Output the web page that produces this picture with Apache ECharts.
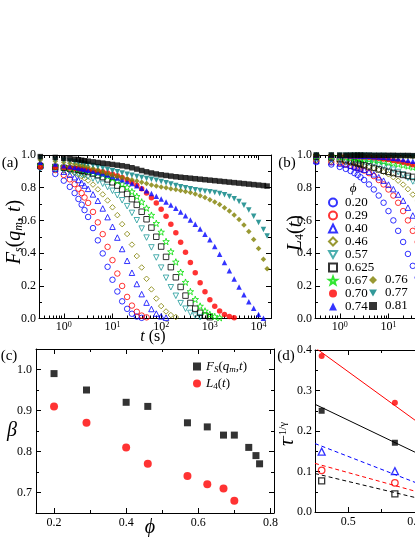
<!DOCTYPE html>
<html>
<head>
<meta charset="utf-8">
<title>Fs and L4 relaxation</title>
<script src="https://cdn.jsdelivr.net/npm/echarts@6.0.0/dist/echarts.min.js"></script>
<style>
  html, body { margin: 0; padding: 0; background: #fff; }
  #main { width: 415px; height: 537px; }
</style>
</head>
<body>
<div id="main"></div>
<script>
const FONT = 'Liberation Serif'

// time points (s), shared by panels (a) and (b)
const timeS = [0.33, 0.67, 1, 1.33, 1.67, 2, 2.33, 2.67,
  3.16, 3.98, 5.01, 6.31, 7.94, 10, 12.6, 15.8, 20, 25.1, 31.6, 39.8, 50.1, 63.1, 79.4,
  100, 126, 158, 200, 251, 316, 398, 501, 631, 794,
  1000, 1259, 1585, 1995, 2512, 3162, 3981, 5012, 6310, 7943,
  10000, 12589, 15000]

// panel (a): Fs(qm, t)
const fs020 = [0.925, 0.884, 0.843, 0.805, 0.767, 0.731, 0.696, 0.663, 0.621, 0.553, 0.478, 0.398, 0.316, 0.237, 0.165, 0.105, 0.059, 0.029, 0.012, 0.004]
const fs029 = [0.938, 0.908, 0.878, 0.851, 0.822, 0.794, 0.767, 0.740, 0.707, 0.652, 0.588, 0.516, 0.438, 0.357, 0.275, 0.199, 0.132, 0.079, 0.041, 0.018, 0.007]
const fs040 = [0.936, 0.916, 0.898, 0.880, 0.864, 0.847, 0.829, 0.813, 0.793, 0.759, 0.720, 0.673, 0.620, 0.561, 0.495, 0.425, 0.353, 0.280, 0.211, 0.149, 0.097, 0.058, 0.030, 0.013, 0.005]
const fs046 = [0.940, 0.927, 0.915, 0.902, 0.891, 0.881, 0.869, 0.858, 0.844, 0.819, 0.790, 0.759, 0.722, 0.680, 0.632, 0.577, 0.517, 0.452, 0.382, 0.312, 0.243, 0.178, 0.122, 0.076, 0.043, 0.021, 0.009]
const fs057 = [0.919, 0.911, 0.904, 0.898, 0.892, 0.886, 0.881, 0.875, 0.868, 0.856, 0.842, 0.824, 0.804, 0.781, 0.754, 0.723, 0.687, 0.646, 0.601, 0.550, 0.495, 0.435, 0.373, 0.311, 0.249, 0.191, 0.139, 0.094, 0.060, 0.034, 0.018, 0.008]
const fs0625 = [0.933, 0.927, 0.922, 0.917, 0.913, 0.909, 0.904, 0.901, 0.896, 0.887, 0.877, 0.865, 0.851, 0.833, 0.813, 0.790, 0.762, 0.730, 0.695, 0.653, 0.607, 0.556, 0.500, 0.440, 0.377, 0.314, 0.252, 0.193, 0.140, 0.095, 0.060, 0.035, 0.018, 0.008]
const fs067 = [0.935, 0.931, 0.927, 0.923, 0.919, 0.917, 0.913, 0.910, 0.906, 0.900, 0.892, 0.883, 0.871, 0.858, 0.842, 0.823, 0.803, 0.776, 0.747, 0.713, 0.675, 0.632, 0.582, 0.529, 0.471, 0.409, 0.346, 0.283, 0.222, 0.165, 0.117, 0.076, 0.046, 0.025, 0.012, 0.005]
const fs070 = [0.926, 0.925, 0.923, 0.921, 0.919, 0.917, 0.915, 0.913, 0.910, 0.907, 0.902, 0.897, 0.890, 0.883, 0.873, 0.862, 0.849, 0.833, 0.815, 0.794, 0.768, 0.739, 0.706, 0.668, 0.625, 0.576, 0.524, 0.466, 0.405, 0.342, 0.280, 0.219, 0.164, 0.115, 0.075, 0.046, 0.025, 0.012, 0.005]
const fs074 = [0.955, 0.945, 0.935, 0.930, 0.925, 0.920, 0.916, 0.912, 0.907, 0.900, 0.893, 0.885, 0.877, 0.868, 0.859, 0.849, 0.838, 0.826, 0.812, 0.797, 0.781, 0.765, 0.748, 0.731, 0.713, 0.694, 0.674, 0.652, 0.628, 0.603, 0.577, 0.548, 0.516, 0.481, 0.440, 0.393, 0.343, 0.292, 0.241, 0.192, 0.146, 0.103, 0.063, 0.025, 0.002]
const fs076 = [0.970, 0.962, 0.955, 0.950, 0.945, 0.940, 0.936, 0.932, 0.927, 0.918, 0.908, 0.897, 0.887, 0.878, 0.870, 0.862, 0.855, 0.848, 0.841, 0.833, 0.825, 0.817, 0.811, 0.805, 0.799, 0.794, 0.789, 0.783, 0.777, 0.770, 0.761, 0.751, 0.740, 0.727, 0.713, 0.697, 0.678, 0.657, 0.633, 0.606, 0.572, 0.532, 0.483, 0.428, 0.363, 0.305]
const fs077 = [0.980, 0.973, 0.968, 0.964, 0.960, 0.956, 0.952, 0.948, 0.944, 0.936, 0.928, 0.920, 0.912, 0.904, 0.897, 0.890, 0.883, 0.876, 0.869, 0.862, 0.856, 0.851, 0.846, 0.838, 0.830, 0.822, 0.814, 0.806, 0.799, 0.793, 0.788, 0.783, 0.779, 0.775, 0.770, 0.765, 0.757, 0.746, 0.733, 0.716, 0.693, 0.664, 0.626, 0.587, 0.545, 0.505]
const fs081 = [0.990, 0.985, 0.980, 0.977, 0.974, 0.971, 0.968, 0.965, 0.962, 0.958, 0.954, 0.950, 0.946, 0.942, 0.938, 0.934, 0.929, 0.922, 0.914, 0.905, 0.897, 0.890, 0.884, 0.879, 0.875, 0.871, 0.867, 0.864, 0.861, 0.858, 0.855, 0.852, 0.849, 0.846, 0.843, 0.840, 0.837, 0.834, 0.831, 0.828, 0.825, 0.822, 0.819, 0.816, 0.813, 0.810]

// panel (b): L4(t), only the part inside the picture
const l4020 = [0.957, 0.942, 0.927, 0.915, 0.902, 0.889, 0.878, 0.864, 0.847, 0.820, 0.789, 0.752, 0.708, 0.657, 0.600, 0.536, 0.468, 0.395, 0.322, 0.250]
const l4029 = [0.965, 0.957, 0.950, 0.942, 0.934, 0.927, 0.920, 0.914, 0.905, 0.889, 0.871, 0.847, 0.820, 0.789, 0.752, 0.708, 0.657, 0.600, 0.536, 0.468]
const l4040 = [0.963, 0.956, 0.948, 0.942, 0.935, 0.929, 0.923, 0.917, 0.910, 0.897, 0.882, 0.864, 0.843, 0.819, 0.791, 0.758, 0.721, 0.678, 0.630, 0.576]
const l4046 = [0.969, 0.963, 0.959, 0.956, 0.952, 0.948, 0.944, 0.941, 0.936, 0.929, 0.920, 0.910, 0.897, 0.882, 0.864, 0.843, 0.819, 0.791, 0.758, 0.721]
const l4057 = [0.978, 0.975, 0.972, 0.970, 0.967, 0.965, 0.963, 0.961, 0.958, 0.953, 0.947, 0.940, 0.932, 0.922, 0.910, 0.896, 0.880, 0.860, 0.838, 0.810]
const l40625 = [0.990, 0.985, 0.975, 0.968, 0.961, 0.955, 0.949, 0.944, 0.938, 0.930, 0.921, 0.912, 0.904, 0.897, 0.890, 0.884, 0.878, 0.872, 0.866, 0.860]
const l4067 = [0.995, 0.993, 0.990, 0.988, 0.985, 0.983, 0.981, 0.979, 0.977, 0.974, 0.970, 0.966, 0.961, 0.956, 0.951, 0.945, 0.939, 0.933, 0.926, 0.918]
const l4070 = [0.997, 0.996, 0.995, 0.994, 0.993, 0.992, 0.991, 0.990, 0.988, 0.986, 0.983, 0.980, 0.976, 0.972, 0.967, 0.962, 0.956, 0.949, 0.941, 0.933]
const l4074 = [0.998, 0.998, 0.997, 0.997, 0.996, 0.995, 0.995, 0.994, 0.993, 0.992, 0.990, 0.988, 0.986, 0.983, 0.980, 0.977, 0.973, 0.968, 0.962, 0.955]
const l4076 = [0.999, 0.999, 0.999, 0.998, 0.998, 0.998, 0.998, 0.997, 0.997, 0.997, 0.996, 0.996, 0.995, 0.994, 0.993, 0.993, 0.992, 0.991, 0.990, 0.989]
const l4077 = [0.999, 0.999, 0.999, 0.999, 0.999, 0.998, 0.998, 0.998, 0.998, 0.998, 0.997, 0.997, 0.997, 0.996, 0.996, 0.995, 0.995, 0.994, 0.993, 0.992]
const l4081 = [1.000, 1.000, 0.999, 0.999, 0.999, 0.999, 0.999, 0.999, 0.999, 0.999, 0.998, 0.998, 0.998, 0.998, 0.998, 0.997, 0.997, 0.997, 0.996, 0.996]

// panel (c): stretching exponent beta vs phi
const phiFs = [0.20, 0.29, 0.40, 0.46, 0.57, 0.625, 0.67, 0.70, 0.74, 0.76, 0.77]
const betaFs = [0.99, 0.95, 0.92, 0.91, 0.87, 0.86, 0.84, 0.84, 0.81, 0.79, 0.77]
const phiL4 = [0.20, 0.29, 0.40, 0.46, 0.57, 0.625, 0.67, 0.70]
const betaL4 = [0.91, 0.87, 0.81, 0.77, 0.74, 0.72, 0.71, 0.68]

// panel (d): tau^(-1/gamma) vs phi, with fitted lines
const phiTau = [0.46, 0.57]
const tauRedFilled = [0.385, 0.270]
const tauBlackFilled = [0.250, 0.171]
const tauBlueOpen = [0.149, 0.101]
const tauRedOpen = [0.103, 0.072]
const tauBlackOpen = [0.077, 0.045]
const fitPhi = [0.45, 0.61]
const fitRedSolid = [0.406, 0.215]
const fitBlackSolid = [0.266, 0.140]
const fitBlueDash = [0.169, 0.067]
const fitRedDash = [0.120, 0.047]
const fitBlackDash = [0.095, 0.032]

// tick values
const logMajor = [1, 10, 100, 1000, 10000]
const logMinor = [0.4, 0.5, 0.6, 0.7, 0.8, 0.9, 2, 3, 4, 5, 6, 7, 8, 9, 20, 30, 40, 50, 60, 70, 80, 90,
  200, 300, 400, 500, 600, 700, 800, 900, 2000, 3000, 4000, 5000, 6000, 7000, 8000, 9000]
const fracMajor = [0, 0.2, 0.4, 0.6, 0.8, 1.0]
const fracMinor = [0.1, 0.3, 0.5, 0.7, 0.9]
const cxMajor = [0.2, 0.4, 0.6, 0.8]
const cxMinor = [0.3, 0.5, 0.7]
const cyMajor = [0.7, 0.8, 0.9, 1.0]
const cyMinor = [0.75, 0.85, 0.95]
const dxMajor = [0.5, 0.6, 0.7]
const dxMinor = [0.55, 0.65, 0.75]
const dyMajor = [0, 0.1, 0.2, 0.3, 0.4]
const dyMinor = [0.05, 0.15, 0.25, 0.35]

// series look
const STAR = 'path://M0,-10L2.35,-3.24L9.51,-3.09L3.8,1.24L5.88,8.09L0,4L-5.88,8.09L-3.8,1.24L-9.51,-3.09L-2.35,-3.24Z'
const DOWN = 'path://M-5,-4.33L5,-4.33L0,4.33Z'
const phiNames = ['0.20', '0.29', '0.40', '0.46', '0.57', '0.625', '0.67', '0.70', '0.74', '0.76', '0.77', '0.81']
const phiColors = ['#0000ff', '#ff0000', '#0000ff', '#808000', '#1e9a9a', '#000000', '#00e000', '#ff0000', '#0000ff', '#808000', '#008080', '#000000']
const phiSymbols = ['circle', 'circle', 'triangle', 'diamond', DOWN, 'rect', STAR, 'circle', 'triangle', 'diamond', DOWN, 'rect']
const phiOpen = [true, true, true, true, true, true, true, false, false, false, false, false]
const fsList = [fs020, fs029, fs040, fs046, fs057, fs0625, fs067, fs070, fs074, fs076, fs077, fs081]
const l4List = [l4020, l4029, l4040, l4046, l4057, l40625, l4067, l4070, l4074, l4076, l4077, l4081]

const xAxes = []
const yAxes = []

// one axis with line, major ticks and labels, plus a bare one for minor ticks
function addAxis (list, o) {
  const base = {
    gridIndex: o.grid, type: o.type, min: o.min, max: o.max, position: o.pos,
    splitLine: { show: false },
    axisLine: { show: false, onZero: false },
    axisTick: { show: false },
    axisLabel: { show: false }
  }
  if (o.type === 'log') base.logBase = 10
  const main = Object.assign({}, base, {
    axisLine: { show: true, onZero: false, lineStyle: { color: '#000', width: 1 } },
    axisTick: { show: true, inside: true, length: 5, customValues: o.major, lineStyle: { color: '#000', width: 1 } },
    axisLabel: o.fmt ? {
      show: true, customValues: o.major, formatter: o.fmt, margin: o.margin || 4,
      color: '#000', fontFamily: FONT, fontSize: 12, rich: o.rich
    } : { show: false }
  })
  const minor = Object.assign({}, base, {
    axisTick: { show: true, inside: true, length: 3, customValues: o.minor, lineStyle: { color: '#000', width: 1 } }
  })
  list.push(main, minor)
  return list.length - 2
}

const fix1 = v => v.toFixed(1)
const pow10 = v => '10{sup|' + Math.round(Math.log10(v)) + '}'
const supRich = {
  sup: { fontFamily: FONT, fontSize: 8, lineHeight: 8, verticalAlign: 'top', color: '#000' }
}

// grids 0..3 = panels a..d; b and d run past the right edge of the picture
const grids = [
  { left: 39, top: 155, width: 232, height: 163.5, outerBoundsMode: 'none' },
  { left: 315, top: 155, width: 232, height: 163.5, outerBoundsMode: 'none' },
  { left: 36, top: 349, width: 238, height: 164, outerBoundsMode: 'none' },
  { left: 315, top: 350, width: 233, height: 162, outerBoundsMode: 'none' }
]

const axX = []
const axY = []
for (let g = 0; g < 2; g++) {
  axX[g] = addAxis(xAxes, { grid: g, pos: 'bottom', type: 'log', min: 0.31, max: 18000, major: logMajor, minor: logMinor, fmt: pow10, rich: supRich, margin: 2 })
  addAxis(xAxes, { grid: g, pos: 'top', type: 'log', min: 0.31, max: 18000, major: logMajor, minor: logMinor })
  axY[g] = addAxis(yAxes, { grid: g, pos: 'left', type: 'value', min: 0, max: 1, major: fracMajor, minor: fracMinor, fmt: fix1, margin: 3 })
  addAxis(yAxes, { grid: g, pos: 'right', type: 'value', min: 0, max: 1, major: fracMajor, minor: fracMinor })
}
axX[2] = addAxis(xAxes, { grid: 2, pos: 'bottom', type: 'value', min: 0.15, max: 0.81, major: cxMajor, minor: cxMinor, fmt: fix1, margin: 4 })
addAxis(xAxes, { grid: 2, pos: 'top', type: 'value', min: 0.15, max: 0.81, major: cxMajor, minor: cxMinor })
axY[2] = addAxis(yAxes, { grid: 2, pos: 'left', type: 'value', min: 0.65, max: 1.05, major: cyMajor, minor: cyMinor, fmt: fix1, margin: 4 })
addAxis(yAxes, { grid: 2, pos: 'right', type: 'value', min: 0.65, max: 1.05, major: cyMajor, minor: cyMinor })
axX[3] = addAxis(xAxes, { grid: 3, pos: 'bottom', type: 'value', min: 0.45, max: 0.8, major: dxMajor, minor: dxMinor, fmt: fix1, margin: 4 })
addAxis(xAxes, { grid: 3, pos: 'top', type: 'value', min: 0.45, max: 0.8, major: dxMajor, minor: dxMinor })
axY[3] = addAxis(yAxes, { grid: 3, pos: 'left', type: 'value', min: 0, max: 0.4, major: dyMajor, minor: dyMinor, fmt: fix1, margin: 3 })
addAxis(yAxes, { grid: 3, pos: 'right', type: 'value', min: 0, max: 0.4, major: dyMajor, minor: dyMinor })

function phiSeries (k, values, g) {
  const c = phiColors[k]
  return {
    name: phiNames[k],
    type: 'scatter',
    xAxisIndex: axX[g],
    yAxisIndex: axY[g],
    symbol: phiSymbols[k],
    symbolSize: phiSymbols[k] === STAR ? 6.5 : 5.5,
    clip: false,
    silent: true,
    itemStyle: phiOpen[k]
      ? { color: 'transparent', borderColor: c, borderWidth: 1 }
      : { color: c, borderWidth: 0 },
    data: values.map((v, i) => [timeS[i], v])
  }
}

function pairs (xs, ys) {
  return xs.map((x, i) => [x, ys[i]])
}

function dPoints (name, ys, symbol, color, open, size) {
  return {
    name: name, type: 'scatter', xAxisIndex: axX[3], yAxisIndex: axY[3], silent: true,
    symbol: symbol, symbolSize: size, z: 3,
    itemStyle: open ? { color: 'transparent', borderColor: color, borderWidth: 1.3 } : { color: color },
    data: pairs(phiTau, ys)
  }
}

function dLine (name, ys, color, dashed) {
  return {
    name: name, type: 'line', xAxisIndex: axX[3], yAxisIndex: axY[3], silent: true,
    symbol: 'none', z: 2,
    lineStyle: { color: color, width: 1, type: dashed ? [4, 3] : 'solid' },
    data: pairs(fitPhi, ys)
  }
}

const series = []
fsList.forEach((d, k) => series.push(phiSeries(k, d, 0)))
l4List.forEach((d, k) => series.push(phiSeries(k, d, 1)))
series.push({
  name: 'Fs', type: 'scatter', xAxisIndex: axX[2], yAxisIndex: axY[2], silent: true,
  symbol: 'rect', symbolSize: 7, itemStyle: { color: '#000' }, data: pairs(phiFs, betaFs)
})
series.push({
  name: 'L4', type: 'scatter', xAxisIndex: axX[2], yAxisIndex: axY[2], silent: true,
  symbol: 'circle', symbolSize: 8, itemStyle: { color: '#ff0000' }, data: pairs(phiL4, betaL4)
})
series.push(dLine('fitRed', fitRedSolid, '#ff0000', false))
series.push(dLine('fitBlack', fitBlackSolid, '#000000', false))
series.push(dLine('fitBlueDash', fitBlueDash, '#0000ff', true))
series.push(dLine('fitRedDash', fitRedDash, '#ff0000', true))
series.push(dLine('fitBlackDash', fitBlackDash, '#000000', true))
series.push(dPoints('tauRedFilled', tauRedFilled, 'circle', '#ff0000', false, 6))
series.push(dPoints('tauBlackFilled', tauBlackFilled, 'rect', '#000000', false, 6))
series.push(dPoints('tauBlueOpen', tauBlueOpen, 'triangle', '#0000ff', true, 7))
series.push(dPoints('tauRedOpen', tauRedOpen, 'circle', '#ff0000', true, 6.5))
series.push(dPoints('tauBlackOpen', tauBlackOpen, 'rect', '#000000', true, 6))

// rich text pieces
function tok (size, italic, extra) {
  return Object.assign({ fontFamily: FONT, fontSize: size, fontStyle: italic ? 'italic' : 'normal', color: '#000' }, extra || {})
}
const titleRich = {
  i: tok(20, true, { lineHeight: 20 }),
  n: tok(20, false, { lineHeight: 20 }),
  sb: tok(12, true, { lineHeight: 10, verticalAlign: 'bottom' }),
  sn: tok(12, false, { lineHeight: 10, verticalAlign: 'bottom' }),
  sp: tok(11, false, { lineHeight: 10, verticalAlign: 'top' })
}
const smallRich = {
  i: tok(16, true, { lineHeight: 18 }),
  n: tok(16, false, { lineHeight: 18 })
}
const legendRich = {
  i: tok(13, true, { lineHeight: 16 }),
  n: tok(13, false, { lineHeight: 16 }),
  sb: tok(9, true, { lineHeight: 8, verticalAlign: 'bottom' }),
  sn: tok(9, false, { lineHeight: 8, verticalAlign: 'bottom' })
}

function label (x, y, text, size, rot, rich) {
  return {
    type: 'text', x: x, y: y, rotation: rot || 0, silent: true,
    style: {
      text: text, fontFamily: FONT, fontSize: size, fill: '#000',
      align: 'center', verticalAlign: 'middle', rich: rich
    }
  }
}

const graphics = [
  label(10, 163, '(a)', 15),
  label(287, 163, '(b)', 15),
  label(9, 356, '(c)', 15),
  label(286, 356, '(d)', 15),
  label(15, 232, '{i|F}{sb|s}{n|(}{i|q}{sb|m}{n|, }{i|t}{n|)}', 20, Math.PI / 2, titleRich),
  label(153, 337, '{i|t}{n| (s)}', 16, 0, smallRich),
  label(296, 233, '{i|L}{sn|4}{n|(}{i|t}{n|)}', 20, Math.PI / 2, titleRich),
  label(12, 431, '{i|β}', 20, 0, titleRich),
  label(150, 528, '{i|ϕ}', 20, 0, titleRich),
  label(288, 434, '{i|τ}{sp|-1/γ}', 18, Math.PI / 2, titleRich),
  label(353, 189, '{i|ϕ}', 15, 0, legendRich)
]

const legendBase = {
  orient: 'vertical', selectedMode: false, itemWidth: 8, itemHeight: 8, padding: 0, itemGap: 0,
  textStyle: { fontFamily: FONT, fontSize: 13, color: '#000', lineHeight: 13, padding: [0, 0, 0, 3] }
}

const option = {
  animation: false,
  backgroundColor: '#ffffff',
  textStyle: { fontFamily: FONT },
  grid: grids,
  xAxis: xAxes,
  yAxis: yAxes,
  legend: [
    Object.assign({}, legendBase, { left: 328, top: 196, data: phiNames.slice(0, 9) }),
    Object.assign({}, legendBase, { left: 369, top: 273.5, data: phiNames.slice(9) }),
    {
      orient: 'vertical', selectedMode: false, left: 193, top: 360, itemGap: 2.4, padding: 0,
      itemWidth: 8, itemHeight: 8,
      data: ['Fs', 'L4'],
      formatter: n => n === 'Fs'
        ? '{i|F}{sb|S}{n|(}{i|q}{sb|m}{n|,}{i|t}{n|)}'
        : '{i|L}{sn|4}{n|(}{i|t}{n|)}',
      textStyle: { fontFamily: FONT, fontSize: 13, color: '#000', rich: legendRich }
    }
  ],
  graphic: graphics,
  series: series
}

const chart = echarts.init(document.getElementById('main'), null, { renderer: 'canvas' })
chart.setOption(option)
</script>
</body>
</html>
